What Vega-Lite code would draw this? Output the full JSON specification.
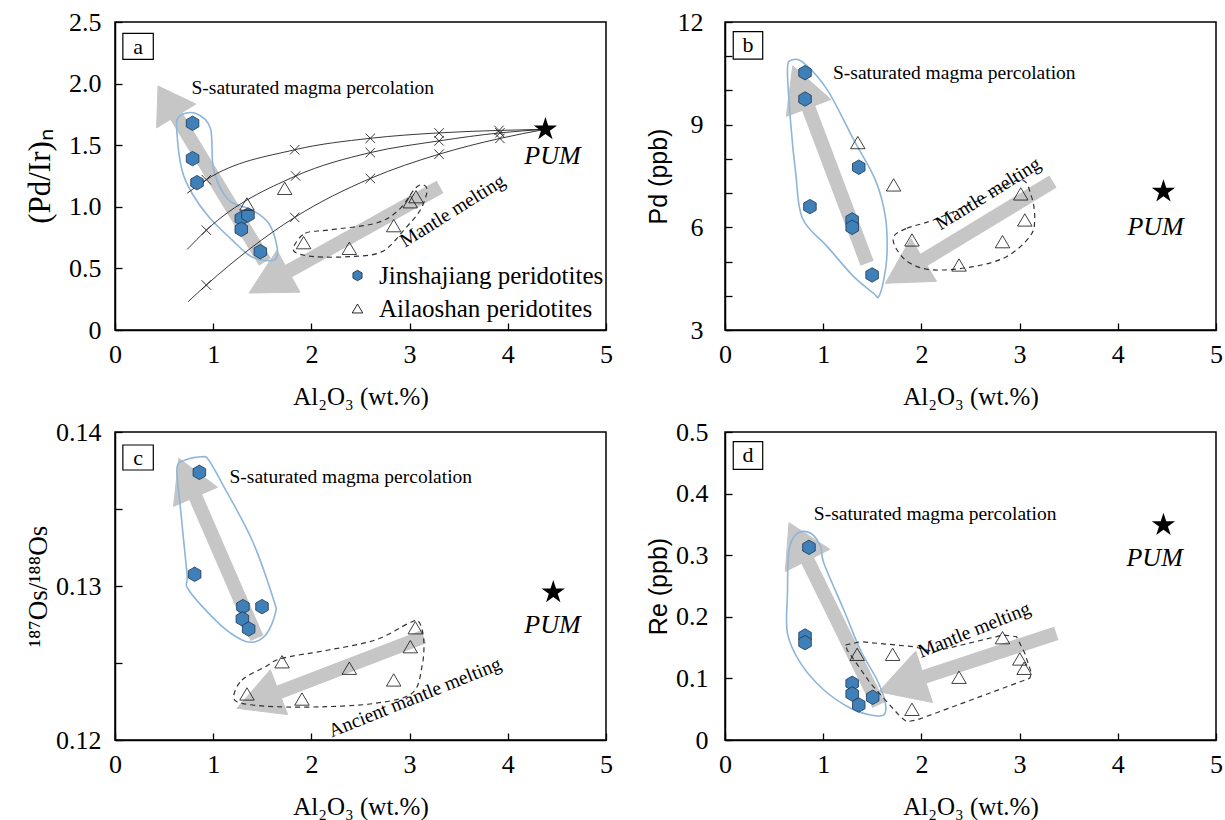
{
"$schema": "https://vega.github.io/schema/vega-lite/v6.json",
"background": "white",
"padding": {"left": 23, "top": 8, "right": 5, "bottom": 5},
"columns": 2,
"spacing": {"row": 102, "column": 119},
"bounds": "flush",
"datasets": {
"pts": [
{"panel":"a","group":"Jinshajiang peridotites","x":0.79,"y":1.678},
{"panel":"a","group":"Jinshajiang peridotites","x":0.79,"y":1.391},
{"panel":"a","group":"Jinshajiang peridotites","x":0.835,"y":1.196},
{"panel":"a","group":"Jinshajiang peridotites","x":1.286,"y":0.906},
{"panel":"a","group":"Jinshajiang peridotites","x":1.354,"y":0.933},
{"panel":"a","group":"Jinshajiang peridotites","x":1.286,"y":0.817},
{"panel":"a","group":"Jinshajiang peridotites","x":1.48,"y":0.636},
{"panel":"a","group":"Ailaoshan peridotites","x":1.344,"y":1.023},
{"panel":"a","group":"Ailaoshan peridotites","x":1.728,"y":1.15},
{"panel":"a","group":"Ailaoshan peridotites","x":1.921,"y":0.709},
{"panel":"a","group":"Ailaoshan peridotites","x":2.386,"y":0.663},
{"panel":"a","group":"Ailaoshan peridotites","x":2.838,"y":0.847},
{"panel":"a","group":"Ailaoshan peridotites","x":3.007,"y":1.041},
{"panel":"a","group":"Ailaoshan peridotites","x":3.065,"y":1.082},
{"panel":"b","group":"Jinshajiang peridotites","x":0.815,"y":10.52},
{"panel":"b","group":"Jinshajiang peridotites","x":0.815,"y":9.75},
{"panel":"b","group":"Jinshajiang peridotites","x":1.362,"y":7.757},
{"panel":"b","group":"Jinshajiang peridotites","x":0.865,"y":6.605},
{"panel":"b","group":"Jinshajiang peridotites","x":1.295,"y":6.216},
{"panel":"b","group":"Jinshajiang peridotites","x":1.295,"y":6.0},
{"panel":"b","group":"Jinshajiang peridotites","x":1.498,"y":4.608},
{"panel":"b","group":"Ailaoshan peridotites","x":1.352,"y":8.477},
{"panel":"b","group":"Ailaoshan peridotites","x":1.717,"y":7.24},
{"panel":"b","group":"Ailaoshan peridotites","x":3.012,"y":6.977},
{"panel":"b","group":"Ailaoshan peridotites","x":3.053,"y":6.216},
{"panel":"b","group":"Ailaoshan peridotites","x":1.904,"y":5.632},
{"panel":"b","group":"Ailaoshan peridotites","x":2.826,"y":5.582},
{"panel":"b","group":"Ailaoshan peridotites","x":2.383,"y":4.9},
{"panel":"c","group":"Jinshajiang peridotites","x":0.859,"y":0.13738},
{"panel":"c","group":"Jinshajiang peridotites","x":0.811,"y":0.13076},
{"panel":"c","group":"Jinshajiang peridotites","x":1.303,"y":0.12866},
{"panel":"c","group":"Jinshajiang peridotites","x":1.497,"y":0.12866},
{"panel":"c","group":"Jinshajiang peridotites","x":1.297,"y":0.12786},
{"panel":"c","group":"Jinshajiang peridotites","x":1.361,"y":0.12721},
{"panel":"c","group":"Ailaoshan peridotites","x":3.058,"y":0.12729},
{"panel":"c","group":"Ailaoshan peridotites","x":3.007,"y":0.12606},
{"panel":"c","group":"Ailaoshan peridotites","x":1.701,"y":0.12508},
{"panel":"c","group":"Ailaoshan peridotites","x":2.386,"y":0.12466},
{"panel":"c","group":"Ailaoshan peridotites","x":2.838,"y":0.1239},
{"panel":"c","group":"Ailaoshan peridotites","x":1.344,"y":0.12299},
{"panel":"c","group":"Ailaoshan peridotites","x":1.904,"y":0.12266},
{"panel":"d","group":"Jinshajiang peridotites","x":0.855,"y":0.3128},
{"panel":"d","group":"Jinshajiang peridotites","x":0.815,"y":0.1688},
{"panel":"d","group":"Jinshajiang peridotites","x":0.815,"y":0.158},
{"panel":"d","group":"Jinshajiang peridotites","x":1.295,"y":0.092},
{"panel":"d","group":"Jinshajiang peridotites","x":1.295,"y":0.0747},
{"panel":"d","group":"Jinshajiang peridotites","x":1.504,"y":0.0693},
{"panel":"d","group":"Jinshajiang peridotites","x":1.362,"y":0.0568},
{"panel":"d","group":"Ailaoshan peridotites","x":2.826,"y":0.1661},
{"panel":"d","group":"Ailaoshan peridotites","x":1.346,"y":0.1391},
{"panel":"d","group":"Ailaoshan peridotites","x":1.707,"y":0.1391},
{"panel":"d","group":"Ailaoshan peridotites","x":3.002,"y":0.1315},
{"panel":"d","group":"Ailaoshan peridotites","x":3.046,"y":0.1164},
{"panel":"d","group":"Ailaoshan peridotites","x":2.383,"y":0.1018},
{"panel":"d","group":"Ailaoshan peridotites","x":1.904,"y":0.0498}
],
"pum": [
{"panel":"a","x":4.383,"y":1.629},
{"panel":"b","x":4.465,"y":7.044},
{"panel":"c","x":4.463,"y":0.12959},
{"panel":"d","x":4.465,"y":0.349}
],
"notes": [
{"panel":"a","kind":"sat","x":2.014,"y":1.962,"text":"S-saturated magma percolation"},
{"panel":"b","kind":"sat","x":2.335,"y":10.51,"text":"S-saturated magma percolation"},
{"panel":"c","kind":"sat","x":2.401,"y":0.137058,"text":"S-saturated magma percolation"},
{"panel":"d","kind":"sat","x":2.14,"y":0.3669,"text":"S-saturated magma percolation"},
{"panel":"a","kind":"melt","x":3.437,"y":0.967,"text":"Mantle melting"},
{"panel":"b","kind":"melt","x":2.68,"y":6.98,"text":"Mantle melting"},
{"panel":"c","kind":"melt","x":3.054,"y":0.12276,"text":"Ancient mantle melting"},
{"panel":"d","kind":"melt","x":2.537,"y":0.1786,"text":"Mantle melting"},
{"panel":"a","kind":"pum","x":4.455,"y":1.414,"text":"PUM"},
{"panel":"b","kind":"pum","x":4.385,"y":6.02,"text":"PUM"},
{"panel":"c","kind":"pum","x":4.455,"y":0.127468,"text":"PUM"},
{"panel":"d","kind":"pum","x":4.375,"y":0.295,"text":"PUM"},
{"panel":"a","kind":"tag","x":0.235,"y":2.30,"text":"a"},
{"panel":"b","kind":"tag","x":0.234,"y":11.32,"text":"b"},
{"panel":"c","kind":"tag","x":0.235,"y":0.138344,"text":"c"},
{"panel":"d","kind":"tag","x":0.234,"y":0.4619,"text":"d"}
],
"tags": [
{"panel":"a","x":0.08,"x2":0.39,"y":2.408,"y2":2.197},
{"panel":"b","x":0.084,"x2":0.384,"y":11.72,"y2":10.915},
{"panel":"c","x":0.08,"x2":0.39,"y":0.139156,"y2":0.137532},
{"panel":"d","x":0.084,"x2":0.384,"y":0.4843,"y2":0.4394}
],
"shafts": [
{"panel":"a","arrow":"a1","x":1.527,"y":0.552},
{"panel":"a","arrow":"a1","x":0.623,"y":1.738},
{"panel":"a","arrow":"a2","x":3.31,"y":1.161},
{"panel":"a","arrow":"a2","x":1.766,"y":0.477},
{"panel":"b","arrow":"b1","x":1.447,"y":4.95},
{"panel":"b","arrow":"b1","x":0.851,"y":9.488},
{"panel":"b","arrow":"b2","x":3.34,"y":7.336},
{"panel":"b","arrow":"b2","x":2.023,"y":5.047},
{"panel":"c","arrow":"c1","x":1.446,"y":0.126604},
{"panel":"c","arrow":"c1","x":0.82,"y":0.135792},
{"panel":"c","arrow":"c2","x":3.144,"y":0.126708},
{"panel":"c","arrow":"c2","x":1.67,"y":0.123104},
{"panel":"d","arrow":"d1","x":1.565,"y":0.0568},
{"panel":"d","arrow":"d1","x":0.841,"y":0.2916},
{"panel":"d","arrow":"d2","x":3.374,"y":0.1732},
{"panel":"d","arrow":"d2","x":2.027,"y":0.1026}
],
"heads": [
{"panel":"a","arrow":"a1","order":1,"x":0.823,"y":1.834},
{"panel":"a","arrow":"a1","order":2,"x":0.438,"y":1.981},
{"panel":"a","arrow":"a1","order":3,"x":0.424,"y":1.641},
{"panel":"a","arrow":"a2","order":1,"x":1.884,"y":0.307},
{"panel":"a","arrow":"a2","order":2,"x":1.365,"y":0.3},
{"panel":"a","arrow":"a2","order":3,"x":1.648,"y":0.648},
{"panel":"b","arrow":"b1","order":1,"x":1.078,"y":9.737},
{"panel":"b","arrow":"b1","order":2,"x":0.69,"y":10.72},
{"panel":"b","arrow":"b1","order":3,"x":0.624,"y":9.24},
{"panel":"b","arrow":"b2","order":1,"x":2.154,"y":4.421},
{"panel":"b","arrow":"b2","order":2,"x":1.633,"y":4.366},
{"panel":"b","arrow":"b2","order":3,"x":1.893,"y":5.673},
{"panel":"c","arrow":"c1","order":1,"x":1.044,"y":0.136416},
{"panel":"c","arrow":"c1","order":2,"x":0.649,"y":0.138292},
{"panel":"c","arrow":"c1","order":3,"x":0.596,"y":0.135169},
{"panel":"c","arrow":"c2","order":1,"x":1.758,"y":0.121649},
{"panel":"c","arrow":"c2","order":2,"x":1.242,"y":0.122058},
{"panel":"c","arrow":"c2","order":3,"x":1.582,"y":0.124558},
{"panel":"d","arrow":"d1","order":1,"x":1.068,"y":0.3096},
{"panel":"d","arrow":"d1","order":2,"x":0.652,"y":0.3528},
{"panel":"d","arrow":"d1","order":3,"x":0.614,"y":0.2735},
{"panel":"d","arrow":"d2","order":1,"x":2.113,"y":0.0609},
{"panel":"d","arrow":"d2","order":2,"x":1.565,"y":0.0784},
{"panel":"d","arrow":"d2","order":3,"x":1.942,"y":0.1443}
],
"outlines": [
{"panel":"a","style":"blue","order":1,"x":0.818,"y":1.759},
{"panel":"a","style":"blue","order":2,"x":0.971,"y":1.637},
{"panel":"a","style":"blue","order":3,"x":1.005,"y":1.299},
{"panel":"a","style":"blue","order":4,"x":1.158,"y":1.055},
{"panel":"a","style":"blue","order":5,"x":1.395,"y":0.974},
{"panel":"a","style":"blue","order":6,"x":1.565,"y":0.866},
{"panel":"a","style":"blue","order":7,"x":1.65,"y":0.676},
{"panel":"a","style":"blue","order":8,"x":1.632,"y":0.574},
{"panel":"a","style":"blue","order":9,"x":1.497,"y":0.568},
{"panel":"a","style":"blue","order":10,"x":1.361,"y":0.609},
{"panel":"a","style":"blue","order":11,"x":1.191,"y":0.731},
{"panel":"a","style":"blue","order":12,"x":0.954,"y":0.92},
{"panel":"a","style":"blue","order":13,"x":0.784,"y":1.11},
{"panel":"a","style":"blue","order":14,"x":0.682,"y":1.299},
{"panel":"a","style":"blue","order":15,"x":0.631,"y":1.597},
{"panel":"a","style":"blue","order":16,"x":0.649,"y":1.731},
{"panel":"a","style":"dash","order":1,"x":1.82,"y":0.676},
{"panel":"a","style":"dash","order":2,"x":1.938,"y":0.785},
{"panel":"a","style":"dash","order":3,"x":2.176,"y":0.812},
{"panel":"a","style":"dash","order":4,"x":2.651,"y":0.866},
{"panel":"a","style":"dash","order":5,"x":2.889,"y":0.974},
{"panel":"a","style":"dash","order":6,"x":3.058,"y":1.15},
{"panel":"a","style":"dash","order":7,"x":3.144,"y":1.177},
{"panel":"a","style":"dash","order":8,"x":3.177,"y":1.123},
{"panel":"a","style":"dash","order":9,"x":3.109,"y":0.974},
{"panel":"a","style":"dash","order":10,"x":2.956,"y":0.825},
{"panel":"a","style":"dash","order":11,"x":2.719,"y":0.636},
{"panel":"a","style":"dash","order":12,"x":2.38,"y":0.595},
{"panel":"a","style":"dash","order":13,"x":2.04,"y":0.595},
{"panel":"a","style":"dash","order":14,"x":1.853,"y":0.623},
{"panel":"b","style":"blue","order":1,"x":0.687,"y":10.895},
{"panel":"b","style":"blue","order":2,"x":0.804,"y":10.798},
{"panel":"b","style":"blue","order":3,"x":1.042,"y":10.018},
{"panel":"b","style":"blue","order":4,"x":1.311,"y":8.556},
{"panel":"b","style":"blue","order":5,"x":1.531,"y":7.386},
{"panel":"b","style":"blue","order":6,"x":1.633,"y":6.313},
{"panel":"b","style":"blue","order":7,"x":1.65,"y":5.243},
{"panel":"b","style":"blue","order":8,"x":1.616,"y":4.462},
{"panel":"b","style":"blue","order":9,"x":1.565,"y":3.974},
{"panel":"b","style":"blue","order":10,"x":1.514,"y":4.073},
{"panel":"b","style":"blue","order":11,"x":1.311,"y":4.558},
{"panel":"b","style":"blue","order":12,"x":1.042,"y":5.436},
{"panel":"b","style":"blue","order":13,"x":0.788,"y":6.266},
{"panel":"b","style":"blue","order":14,"x":0.72,"y":7.582},
{"panel":"b","style":"blue","order":15,"x":0.669,"y":9.044},
{"panel":"b","style":"blue","order":16,"x":0.636,"y":10.602},
{"panel":"b","style":"dash","order":1,"x":1.717,"y":5.728},
{"panel":"b","style":"dash","order":2,"x":1.853,"y":5.974},
{"panel":"b","style":"dash","order":3,"x":2.123,"y":6.216},
{"panel":"b","style":"dash","order":4,"x":2.596,"y":6.8},
{"panel":"b","style":"dash","order":5,"x":3.002,"y":7.386},
{"panel":"b","style":"dash","order":6,"x":3.121,"y":6.898},
{"panel":"b","style":"dash","order":7,"x":3.154,"y":6.216},
{"panel":"b","style":"dash","order":8,"x":3.103,"y":5.728},
{"panel":"b","style":"dash","order":9,"x":2.867,"y":5.143},
{"panel":"b","style":"dash","order":10,"x":2.528,"y":4.851},
{"panel":"b","style":"dash","order":11,"x":2.123,"y":4.754},
{"panel":"b","style":"dash","order":12,"x":1.886,"y":4.95},
{"panel":"b","style":"dash","order":13,"x":1.752,"y":5.339},
{"panel":"c","style":"blue","order":1,"x":0.716,"y":0.138182},
{"panel":"c","style":"blue","order":2,"x":0.886,"y":0.138396},
{"panel":"c","style":"blue","order":3,"x":0.954,"y":0.138182},
{"panel":"c","style":"blue","order":4,"x":1.09,"y":0.136669},
{"panel":"c","style":"blue","order":5,"x":1.395,"y":0.132987},
{"panel":"c","style":"blue","order":6,"x":1.616,"y":0.129091},
{"panel":"c","style":"blue","order":7,"x":1.632,"y":0.128227},
{"panel":"c","style":"blue","order":8,"x":1.548,"y":0.126929},
{"panel":"c","style":"blue","order":9,"x":1.429,"y":0.126383},
{"panel":"c","style":"blue","order":10,"x":1.293,"y":0.126494},
{"panel":"c","style":"blue","order":11,"x":1.056,"y":0.127578},
{"panel":"c","style":"blue","order":12,"x":0.751,"y":0.12974},
{"panel":"c","style":"blue","order":13,"x":0.733,"y":0.130825},
{"panel":"c","style":"blue","order":14,"x":0.665,"y":0.135149},
{"panel":"c","style":"blue","order":15,"x":0.631,"y":0.137643},
{"panel":"c","style":"dash","order":1,"x":1.209,"y":0.122812},
{"panel":"c","style":"dash","order":2,"x":1.293,"y":0.123896},
{"panel":"c","style":"dash","order":3,"x":1.531,"y":0.12476},
{"panel":"c","style":"dash","order":4,"x":1.701,"y":0.125305},
{"panel":"c","style":"dash","order":5,"x":2.176,"y":0.125844},
{"panel":"c","style":"dash","order":6,"x":2.651,"y":0.126494},
{"panel":"c","style":"dash","order":7,"x":2.991,"y":0.127578},
{"panel":"c","style":"dash","order":8,"x":3.093,"y":0.127682},
{"panel":"c","style":"dash","order":9,"x":3.144,"y":0.126494},
{"panel":"c","style":"dash","order":10,"x":3.126,"y":0.12476},
{"panel":"c","style":"dash","order":11,"x":3.024,"y":0.123032},
{"panel":"c","style":"dash","order":12,"x":2.651,"y":0.122383},
{"panel":"c","style":"dash","order":13,"x":2.142,"y":0.122162},
{"panel":"c","style":"dash","order":14,"x":1.632,"y":0.122162},
{"panel":"c","style":"dash","order":15,"x":1.293,"y":0.122383},
{"panel":"d","style":"blue","order":1,"x":0.737,"y":0.3356},
{"panel":"d","style":"blue","order":2,"x":0.872,"y":0.3356},
{"panel":"d","style":"blue","order":3,"x":0.974,"y":0.3138},
{"panel":"d","style":"blue","order":4,"x":1.007,"y":0.2869},
{"panel":"d","style":"blue","order":5,"x":1.21,"y":0.211},
{"panel":"d","style":"blue","order":6,"x":1.379,"y":0.1461},
{"panel":"d","style":"blue","order":7,"x":1.549,"y":0.0974},
{"panel":"d","style":"blue","order":8,"x":1.633,"y":0.0596},
{"panel":"d","style":"blue","order":9,"x":1.616,"y":0.0406},
{"panel":"d","style":"blue","order":10,"x":1.481,"y":0.0406},
{"panel":"d","style":"blue","order":11,"x":1.278,"y":0.0515},
{"panel":"d","style":"blue","order":12,"x":1.007,"y":0.0812},
{"panel":"d","style":"blue","order":13,"x":0.771,"y":0.1245},
{"panel":"d","style":"blue","order":14,"x":0.636,"y":0.1732},
{"panel":"d","style":"blue","order":15,"x":0.636,"y":0.2381},
{"panel":"d","style":"blue","order":16,"x":0.652,"y":0.3084},
{"panel":"d","style":"dash","order":1,"x":1.227,"y":0.1542},
{"panel":"d","style":"dash","order":2,"x":1.379,"y":0.1596},
{"panel":"d","style":"dash","order":3,"x":1.92,"y":0.1515},
{"panel":"d","style":"dash","order":4,"x":2.123,"y":0.1433},
{"panel":"d","style":"dash","order":5,"x":2.833,"y":0.1705},
{"panel":"d","style":"dash","order":6,"x":2.969,"y":0.1677},
{"panel":"d","style":"dash","order":7,"x":3.053,"y":0.1407},
{"panel":"d","style":"dash","order":8,"x":3.121,"y":0.1083},
{"panel":"d","style":"dash","order":9,"x":3.103,"y":0.1002},
{"panel":"d","style":"dash","order":10,"x":1.954,"y":0.0325},
{"panel":"d","style":"dash","order":11,"x":1.853,"y":0.0297},
{"panel":"d","style":"dash","order":12,"x":1.785,"y":0.0378},
{"panel":"d","style":"dash","order":13,"x":1.481,"y":0.092},
{"panel":"d","style":"dash","order":14,"x":1.244,"y":0.1461}
],
"curves": [
{"curve":1,"order":1,"x":0.735,"y":1.11,"marker":false},
{"curve":1,"order":2,"x":0.93,"y":1.22,"marker":true},
{"curve":1,"order":3,"x":1.83,"y":1.463,"marker":true},
{"curve":1,"order":4,"x":2.6,"y":1.556,"marker":true},
{"curve":1,"order":5,"x":3.3,"y":1.6,"marker":true},
{"curve":1,"order":6,"x":3.91,"y":1.62,"marker":true},
{"curve":1,"order":7,"x":4.383,"y":1.629,"marker":false},
{"curve":2,"order":1,"x":0.735,"y":0.654,"marker":false},
{"curve":2,"order":2,"x":0.93,"y":0.81,"marker":true},
{"curve":2,"order":3,"x":1.84,"y":1.25,"marker":true},
{"curve":2,"order":4,"x":2.6,"y":1.44,"marker":true},
{"curve":2,"order":5,"x":3.3,"y":1.535,"marker":true},
{"curve":2,"order":6,"x":3.92,"y":1.6,"marker":true},
{"curve":2,"order":7,"x":4.383,"y":1.629,"marker":false},
{"curve":3,"order":1,"x":0.745,"y":0.23,"marker":false},
{"curve":3,"order":2,"x":0.93,"y":0.365,"marker":true},
{"curve":3,"order":3,"x":1.83,"y":0.914,"marker":true},
{"curve":3,"order":4,"x":2.6,"y":1.23,"marker":true},
{"curve":3,"order":5,"x":3.3,"y":1.427,"marker":true},
{"curve":3,"order":6,"x":3.92,"y":1.555,"marker":true},
{"curve":3,"order":7,"x":4.383,"y":1.629,"marker":false}
]
},
"concat": [
{
"width": 491, "height": 308,
"encoding": {
"x": {"field":"x","type":"quantitative","scale":{"domain":[0,5],"nice":false,"zero":false},"axis":{"title":"Al₂O₃ (wt.%)","values":[0,1,2,3,4,5],"format":"d"}},
"y": {"field":"y","type":"quantitative","scale":{"domain":[0,2.5],"nice":false,"zero":false},"axis":{"title":"(Pd/Ir)ₙ","titleFontSize":31,"values":[0,0.5,1,1.5,2,2.5],"labelExpr":"datum.value == 0 ? '0' : format(datum.value, '.1f')","labelPadding":21,"titlePadding":12}}
},
"layer": [
{"data":{"name":"shafts"},"transform":[{"filter":"datum.panel == 'a'"}],"mark":{"type":"line","color":"#c6c6c6","strokeWidth":14,"strokeCap":"butt"},"encoding":{"detail":{"field":"arrow"}}},
{"data":{"name":"heads"},"transform":[{"filter":"datum.panel == 'a'"}],"mark":{"type":"line","interpolate":"linear-closed","color":"#c6c6c6","fill":"#c6c6c6","strokeWidth":1},"encoding":{"detail":{"field":"arrow"},"order":{"field":"order","type":"quantitative"}}},
{"data":{"name":"outlines"},"transform":[{"filter":"datum.panel == 'a' && datum.style == 'blue'"}],"mark":{"type":"line","interpolate":"cardinal-closed","color":"#8db6d9","strokeWidth":1.6},"encoding":{"order":{"field":"order","type":"quantitative"}}},
{"data":{"name":"outlines"},"transform":[{"filter":"datum.panel == 'a' && datum.style == 'dash'"}],"mark":{"type":"line","interpolate":"cardinal-closed","color":"#333333","strokeWidth":1.2,"strokeDash":[5,4]},"encoding":{"order":{"field":"order","type":"quantitative"}}},
{"data":{"name":"curves"},"mark":{"type":"line","interpolate":"monotone","color":"#222222","strokeWidth":0.9},"encoding":{"detail":{"field":"curve"},"order":{"field":"order","type":"quantitative"}}},
{"data":{"name":"curves"},"transform":[{"filter":"datum.marker"}],"mark":{"type":"point","shape":"M-1,-1L1,1M-1,1L1,-1","size":90,"color":"#222222","strokeWidth":0.9,"filled":false,"opacity":1}},
{"data":{"name":"pts"},"transform":[{"filter":"datum.panel == 'a'"}],"mark":{"type":"point","filled":true,"size":210,"strokeWidth":0.8,"opacity":1},
 "encoding":{
  "shape":{"field":"group","type":"nominal","scale":{"domain":["Jinshajiang peridotites","Ailaoshan peridotites"],"range":["M0,-1L0.866,-0.5L0.866,0.5L0,1L-0.866,0.5L-0.866,-0.5Z","M0,-0.85L1,0.85L-1,0.85Z"]},"legend":{"title":null,"orient":"none","legendX":230,"legendY":241,"padding":0,"labelFont":"Liberation Serif","labelFontSize":25,"labelColor":"black","labelLimit":400,"symbolSize":110,"symbolStrokeWidth":0.9,"labelOffset":9,"rowPadding":7}},
  "fill":{"field":"group","type":"nominal","scale":{"domain":["Jinshajiang peridotites","Ailaoshan peridotites"],"range":["#3f80b8","transparent"]},"legend":{"title":null,"orient":"none","legendX":230,"legendY":241,"padding":0,"labelFont":"Liberation Serif","labelFontSize":25,"labelColor":"black","labelLimit":400,"symbolSize":110,"symbolStrokeWidth":0.9,"labelOffset":9,"rowPadding":7}},
  "stroke":{"field":"group","type":"nominal","scale":{"domain":["Jinshajiang peridotites","Ailaoshan peridotites"],"range":["#1d3550","#111111"]},"legend":{"title":null,"orient":"none","legendX":230,"legendY":241,"padding":0,"labelFont":"Liberation Serif","labelFontSize":25,"labelColor":"black","labelLimit":400,"symbolSize":110,"symbolStrokeWidth":0.9,"labelOffset":9,"rowPadding":7}}
 }},
{"data":{"name":"pum"},"transform":[{"filter":"datum.panel == 'a'"}],"mark":{"type":"point","shape":"M0,-1L0.2245,-0.309L0.9511,-0.309L0.3633,0.118L0.5878,0.809L0,0.382L-0.5878,0.809L-0.3633,0.118L-0.9511,-0.309L-0.2245,-0.309Z","size":600,"filled":true,"color":"black","opacity":1}},
{"data":{"name":"notes"},"transform":[{"filter":"datum.panel == 'a' && datum.kind == 'sat'"}],"mark":{"type":"text","font":"Liberation Serif","fontSize":19.5,"color":"black"},"encoding":{"text":{"field":"text"}}},
{"data":{"name":"notes"},"transform":[{"filter":"datum.panel == 'a' && datum.kind == 'melt'"}],"mark":{"type":"text","font":"Liberation Serif","fontSize":19.5,"color":"black","angle":-32},"encoding":{"text":{"field":"text"}}},
{"data":{"name":"notes"},"transform":[{"filter":"datum.panel == 'a' && datum.kind == 'pum'"}],"mark":{"type":"text","font":"Liberation Serif","fontStyle":"italic","fontSize":26,"color":"black"},"encoding":{"text":{"field":"text"}}},
{"data":{"name":"tags"},"transform":[{"filter":"datum.panel == 'a'"}],"mark":{"type":"rect","fill":"white","stroke":"black","strokeWidth":1.2},"encoding":{"x2":{"field":"x2"},"y2":{"field":"y2"}}},
{"data":{"name":"notes"},"transform":[{"filter":"datum.panel == 'a' && datum.kind == 'tag'"}],"mark":{"type":"text","font":"Liberation Serif","fontSize":22,"color":"black"},"encoding":{"text":{"field":"text"}}}
]
},
{
"width": 491, "height": 308,
"encoding": {
"x": {"field":"x","type":"quantitative","scale":{"domain":[0,5],"nice":false,"zero":false},"axis":{"title":"Al₂O₃ (wt.%)","values":[0,1,2,3,4,5],"format":"d"}},
"y": {"field":"y","type":"quantitative","scale":{"domain":[3,12],"nice":false,"zero":false},"axis":{"title":"Pd (ppb)","titleFont":"Liberation Sans","titleFontSize":25,"values":[3,4,5,6,7,8,9,10,11,12],"labelExpr":"datum.value % 3 == 0 ? datum.label : ''","labelPadding":29,"titlePadding":6}}
},
"layer": [
{"data":{"name":"shafts"},"transform":[{"filter":"datum.panel == 'b'"}],"mark":{"type":"line","color":"#c6c6c6","strokeWidth":14,"strokeCap":"butt"},"encoding":{"detail":{"field":"arrow"}}},
{"data":{"name":"heads"},"transform":[{"filter":"datum.panel == 'b'"}],"mark":{"type":"line","interpolate":"linear-closed","color":"#c6c6c6","fill":"#c6c6c6","strokeWidth":1},"encoding":{"detail":{"field":"arrow"},"order":{"field":"order","type":"quantitative"}}},
{"data":{"name":"outlines"},"transform":[{"filter":"datum.panel == 'b' && datum.style == 'blue'"}],"mark":{"type":"line","interpolate":"cardinal-closed","color":"#8db6d9","strokeWidth":1.6},"encoding":{"order":{"field":"order","type":"quantitative"}}},
{"data":{"name":"outlines"},"transform":[{"filter":"datum.panel == 'b' && datum.style == 'dash'"}],"mark":{"type":"line","interpolate":"cardinal-closed","color":"#333333","strokeWidth":1.2,"strokeDash":[5,4]},"encoding":{"order":{"field":"order","type":"quantitative"}}},
{"data":{"name":"pts"},"transform":[{"filter":"datum.panel == 'b'"}],"mark":{"type":"point","filled":true,"size":210,"strokeWidth":0.8,"opacity":1},
 "encoding":{
  "shape":{"field":"group","type":"nominal","scale":{"domain":["Jinshajiang peridotites","Ailaoshan peridotites"],"range":["M0,-1L0.866,-0.5L0.866,0.5L0,1L-0.866,0.5L-0.866,-0.5Z","M0,-0.85L1,0.85L-1,0.85Z"]},"legend":null},
  "fill":{"field":"group","type":"nominal","scale":{"domain":["Jinshajiang peridotites","Ailaoshan peridotites"],"range":["#3f80b8","transparent"]},"legend":null},
  "stroke":{"field":"group","type":"nominal","scale":{"domain":["Jinshajiang peridotites","Ailaoshan peridotites"],"range":["#1d3550","#111111"]},"legend":null}
 }},
{"data":{"name":"pum"},"transform":[{"filter":"datum.panel == 'b'"}],"mark":{"type":"point","shape":"M0,-1L0.2245,-0.309L0.9511,-0.309L0.3633,0.118L0.5878,0.809L0,0.382L-0.5878,0.809L-0.3633,0.118L-0.9511,-0.309L-0.2245,-0.309Z","size":600,"filled":true,"color":"black","opacity":1}},
{"data":{"name":"notes"},"transform":[{"filter":"datum.panel == 'b' && datum.kind == 'sat'"}],"mark":{"type":"text","font":"Liberation Serif","fontSize":19.5,"color":"black"},"encoding":{"text":{"field":"text"}}},
{"data":{"name":"notes"},"transform":[{"filter":"datum.panel == 'b' && datum.kind == 'melt'"}],"mark":{"type":"text","font":"Liberation Serif","fontSize":19.5,"color":"black","angle":-32},"encoding":{"text":{"field":"text"}}},
{"data":{"name":"notes"},"transform":[{"filter":"datum.panel == 'b' && datum.kind == 'pum'"}],"mark":{"type":"text","font":"Liberation Serif","fontStyle":"italic","fontSize":26,"color":"black"},"encoding":{"text":{"field":"text"}}},
{"data":{"name":"tags"},"transform":[{"filter":"datum.panel == 'b'"}],"mark":{"type":"rect","fill":"white","stroke":"black","strokeWidth":1.2},"encoding":{"x2":{"field":"x2"},"y2":{"field":"y2"}}},
{"data":{"name":"notes"},"transform":[{"filter":"datum.panel == 'b' && datum.kind == 'tag'"}],"mark":{"type":"text","font":"Liberation Serif","fontSize":22,"color":"black"},"encoding":{"text":{"field":"text"}}}
]
},
{
"width": 491, "height": 308,
"encoding": {
"x": {"field":"x","type":"quantitative","scale":{"domain":[0,5],"nice":false,"zero":false},"axis":{"title":"Al₂O₃ (wt.%)","values":[0,1,2,3,4,5],"format":"d"}},
"y": {"field":"y","type":"quantitative","scale":{"domain":[0.12,0.14],"nice":false,"zero":false},"axis":{"title":"¹⁸⁷Os/¹⁸⁸Os","titleFontSize":27,"values":[0.12,0.125,0.13,0.135,0.14],"labelExpr":"abs(datum.value * 100 - round(datum.value * 100)) < 0.01 ? format(datum.value, '.2f') : ''","labelPadding":21,"titlePadding":3}}
},
"layer": [
{"data":{"name":"shafts"},"transform":[{"filter":"datum.panel == 'c'"}],"mark":{"type":"line","color":"#c6c6c6","strokeWidth":14,"strokeCap":"butt"},"encoding":{"detail":{"field":"arrow"}}},
{"data":{"name":"heads"},"transform":[{"filter":"datum.panel == 'c'"}],"mark":{"type":"line","interpolate":"linear-closed","color":"#c6c6c6","fill":"#c6c6c6","strokeWidth":1},"encoding":{"detail":{"field":"arrow"},"order":{"field":"order","type":"quantitative"}}},
{"data":{"name":"outlines"},"transform":[{"filter":"datum.panel == 'c' && datum.style == 'blue'"}],"mark":{"type":"line","interpolate":"cardinal-closed","color":"#8db6d9","strokeWidth":1.6},"encoding":{"order":{"field":"order","type":"quantitative"}}},
{"data":{"name":"outlines"},"transform":[{"filter":"datum.panel == 'c' && datum.style == 'dash'"}],"mark":{"type":"line","interpolate":"cardinal-closed","color":"#333333","strokeWidth":1.2,"strokeDash":[5,4]},"encoding":{"order":{"field":"order","type":"quantitative"}}},
{"data":{"name":"pts"},"transform":[{"filter":"datum.panel == 'c'"}],"mark":{"type":"point","filled":true,"size":210,"strokeWidth":0.8,"opacity":1},
 "encoding":{
  "shape":{"field":"group","type":"nominal","scale":{"domain":["Jinshajiang peridotites","Ailaoshan peridotites"],"range":["M0,-1L0.866,-0.5L0.866,0.5L0,1L-0.866,0.5L-0.866,-0.5Z","M0,-0.85L1,0.85L-1,0.85Z"]},"legend":null},
  "fill":{"field":"group","type":"nominal","scale":{"domain":["Jinshajiang peridotites","Ailaoshan peridotites"],"range":["#3f80b8","transparent"]},"legend":null},
  "stroke":{"field":"group","type":"nominal","scale":{"domain":["Jinshajiang peridotites","Ailaoshan peridotites"],"range":["#1d3550","#111111"]},"legend":null}
 }},
{"data":{"name":"pum"},"transform":[{"filter":"datum.panel == 'c'"}],"mark":{"type":"point","shape":"M0,-1L0.2245,-0.309L0.9511,-0.309L0.3633,0.118L0.5878,0.809L0,0.382L-0.5878,0.809L-0.3633,0.118L-0.9511,-0.309L-0.2245,-0.309Z","size":600,"filled":true,"color":"black","opacity":1}},
{"data":{"name":"notes"},"transform":[{"filter":"datum.panel == 'c' && datum.kind == 'sat'"}],"mark":{"type":"text","font":"Liberation Serif","fontSize":19.5,"color":"black"},"encoding":{"text":{"field":"text"}}},
{"data":{"name":"notes"},"transform":[{"filter":"datum.panel == 'c' && datum.kind == 'melt'"}],"mark":{"type":"text","font":"Liberation Serif","fontSize":19.5,"color":"black","angle":-22},"encoding":{"text":{"field":"text"}}},
{"data":{"name":"notes"},"transform":[{"filter":"datum.panel == 'c' && datum.kind == 'pum'"}],"mark":{"type":"text","font":"Liberation Serif","fontStyle":"italic","fontSize":26,"color":"black"},"encoding":{"text":{"field":"text"}}},
{"data":{"name":"tags"},"transform":[{"filter":"datum.panel == 'c'"}],"mark":{"type":"rect","fill":"white","stroke":"black","strokeWidth":1.2},"encoding":{"x2":{"field":"x2"},"y2":{"field":"y2"}}},
{"data":{"name":"notes"},"transform":[{"filter":"datum.panel == 'c' && datum.kind == 'tag'"}],"mark":{"type":"text","font":"Liberation Serif","fontSize":22,"color":"black"},"encoding":{"text":{"field":"text"}}}
]
},
{
"width": 491, "height": 308,
"encoding": {
"x": {"field":"x","type":"quantitative","scale":{"domain":[0,5],"nice":false,"zero":false},"axis":{"title":"Al₂O₃ (wt.%)","values":[0,1,2,3,4,5],"format":"d"}},
"y": {"field":"y","type":"quantitative","scale":{"domain":[0,0.5],"nice":false,"zero":false},"axis":{"title":"Re (ppb)","titleFont":"Liberation Sans","titleFontSize":25,"values":[0,0.1,0.2,0.3,0.4,0.5],"labelExpr":"datum.value == 0 ? '0' : format(datum.value, '.1f')","labelPadding":24,"titlePadding":4}}
},
"layer": [
{"data":{"name":"shafts"},"transform":[{"filter":"datum.panel == 'd'"}],"mark":{"type":"line","color":"#c6c6c6","strokeWidth":14,"strokeCap":"butt"},"encoding":{"detail":{"field":"arrow"}}},
{"data":{"name":"heads"},"transform":[{"filter":"datum.panel == 'd'"}],"mark":{"type":"line","interpolate":"linear-closed","color":"#c6c6c6","fill":"#c6c6c6","strokeWidth":1},"encoding":{"detail":{"field":"arrow"},"order":{"field":"order","type":"quantitative"}}},
{"data":{"name":"outlines"},"transform":[{"filter":"datum.panel == 'd' && datum.style == 'blue'"}],"mark":{"type":"line","interpolate":"cardinal-closed","color":"#8db6d9","strokeWidth":1.6},"encoding":{"order":{"field":"order","type":"quantitative"}}},
{"data":{"name":"outlines"},"transform":[{"filter":"datum.panel == 'd' && datum.style == 'dash'"}],"mark":{"type":"line","interpolate":"linear-closed","color":"#333333","strokeWidth":1.2,"strokeDash":[5,4]},"encoding":{"order":{"field":"order","type":"quantitative"}}},
{"data":{"name":"pts"},"transform":[{"filter":"datum.panel == 'd'"}],"mark":{"type":"point","filled":true,"size":210,"strokeWidth":0.8,"opacity":1},
 "encoding":{
  "shape":{"field":"group","type":"nominal","scale":{"domain":["Jinshajiang peridotites","Ailaoshan peridotites"],"range":["M0,-1L0.866,-0.5L0.866,0.5L0,1L-0.866,0.5L-0.866,-0.5Z","M0,-0.85L1,0.85L-1,0.85Z"]},"legend":null},
  "fill":{"field":"group","type":"nominal","scale":{"domain":["Jinshajiang peridotites","Ailaoshan peridotites"],"range":["#3f80b8","transparent"]},"legend":null},
  "stroke":{"field":"group","type":"nominal","scale":{"domain":["Jinshajiang peridotites","Ailaoshan peridotites"],"range":["#1d3550","#111111"]},"legend":null}
 }},
{"data":{"name":"pum"},"transform":[{"filter":"datum.panel == 'd'"}],"mark":{"type":"point","shape":"M0,-1L0.2245,-0.309L0.9511,-0.309L0.3633,0.118L0.5878,0.809L0,0.382L-0.5878,0.809L-0.3633,0.118L-0.9511,-0.309L-0.2245,-0.309Z","size":600,"filled":true,"color":"black","opacity":1}},
{"data":{"name":"notes"},"transform":[{"filter":"datum.panel == 'd' && datum.kind == 'sat'"}],"mark":{"type":"text","font":"Liberation Serif","fontSize":19.5,"color":"black"},"encoding":{"text":{"field":"text"}}},
{"data":{"name":"notes"},"transform":[{"filter":"datum.panel == 'd' && datum.kind == 'melt'"}],"mark":{"type":"text","font":"Liberation Serif","fontSize":19.5,"color":"black","angle":-22},"encoding":{"text":{"field":"text"}}},
{"data":{"name":"notes"},"transform":[{"filter":"datum.panel == 'd' && datum.kind == 'pum'"}],"mark":{"type":"text","font":"Liberation Serif","fontStyle":"italic","fontSize":26,"color":"black"},"encoding":{"text":{"field":"text"}}},
{"data":{"name":"tags"},"transform":[{"filter":"datum.panel == 'd'"}],"mark":{"type":"rect","fill":"white","stroke":"black","strokeWidth":1.2},"encoding":{"x2":{"field":"x2"},"y2":{"field":"y2"}}},
{"data":{"name":"notes"},"transform":[{"filter":"datum.panel == 'd' && datum.kind == 'tag'"}],"mark":{"type":"text","font":"Liberation Serif","fontSize":22,"color":"black"},"encoding":{"text":{"field":"text"}}}
]
}
],
"resolve": {
"scale": {"shape":"independent","fill":"independent","stroke":"independent"},
"legend": {"shape":"independent","fill":"independent","stroke":"independent"}
},
"config": {
"view": {"stroke":"black","strokeWidth":1.5},
"axis": {"domainColor":"black","domainWidth":1.5,"tickColor":"black","tickWidth":1.3,"tickSize":-7,"labelFont":"Liberation Serif","labelFontSize":26,"labelColor":"black","titleFont":"Liberation Serif","titleFontSize":25,"titleFontWeight":"normal","titleColor":"black","grid":false,"labelFlush":false,"labelOverlap":false},
"axisX": {"labelPadding":18,"titlePadding":17},
"font": "Liberation Serif"
}
}
